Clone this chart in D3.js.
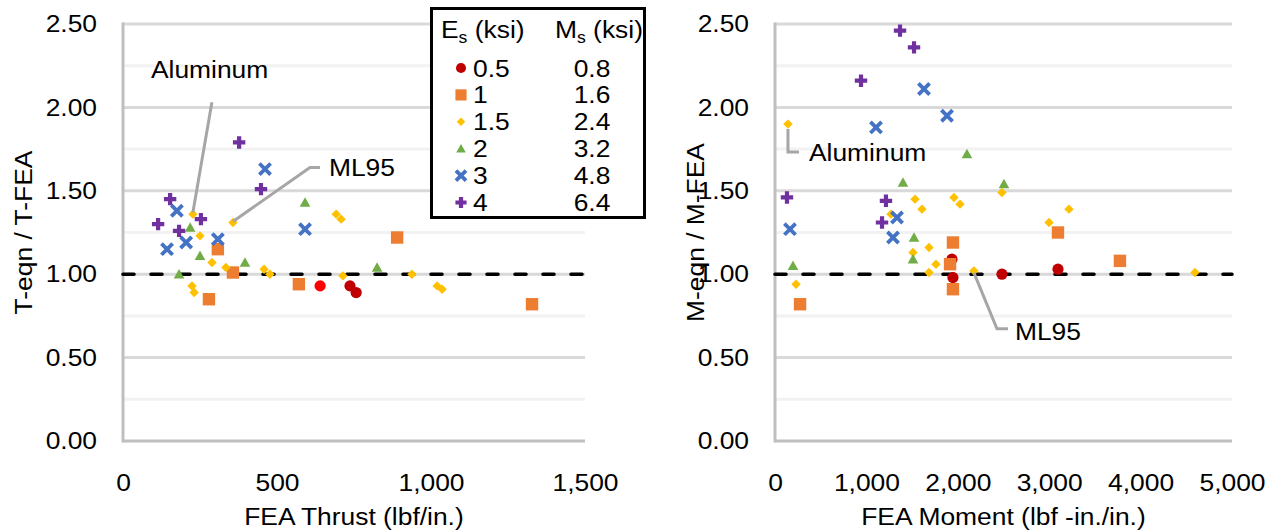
<!DOCTYPE html>
<meta charset="utf-8">
<style>
body { margin: 0; background: #fff; }
svg text { font-family: "Liberation Sans", Arial, sans-serif; font-size: 24px; fill: #000; }
/* the reference text is drawn a little wide, so stretch it */
.sx { transform-box: fill-box; transform: scaleX(1.1); }
.sx-s { transform-origin: left center; }
.sx-e { transform-origin: right center; }
.sx-m { transform-origin: center; }
</style>
<svg width="1280" height="531"></svg>
<script src="https://d3js.org/d3.v7.min.js"></script>
<script>

// legend columns
var esVals = ["0.5", "1", "1.5", "2", "3", "4"];
var msVals = ["0.8", "1.6", "2.4", "3.2", "4.8", "6.4"];
var colors = ["#C00000", "#ED7D31", "#FFC000", "#70AD47", "#4472C4", "#7030A0"];
var shapes = ["circle", "square", "diamond", "triangle", "times", "plus"];

// tick labels
var yTicks = [0, 0.5, 1, 1.5, 2, 2.5];
var thrustTicks = [0, 500, 1000, 1500];
var momentTicks = [0, 1000, 2000, 3000, 4000, 5000];

// thrust chart: [FEA thrust, T-eqn / T-FEA]
var tE05 = [[737, 0.93], [757, 0.89]];
var tE05b = [[640, 0.93]];
var tE1 = [[308, 1.15], [357, 1.01], [279, 0.85], [571, 0.94], [890, 1.22], [1328, 0.82]];
var tE15 = [[227, 1.36], [357, 1.31], [250, 1.23], [289, 1.07], [334, 1.04], [458, 1.03], [477, 1.00],
            [224, 0.93], [231, 0.89], [692, 1.36], [708, 1.33], [714, 0.99], [938, 1.00], [1020, 0.93], [1036, 0.91]];
var tE2 = [[218, 1.28], [250, 1.11], [396, 1.07], [182, 1.00], [591, 1.43], [825, 1.04]];
var tE3 = [[461, 1.63], [175, 1.38], [205, 1.19], [143, 1.15], [308, 1.21], [591, 1.27]];
var tE4 = [[377, 1.79], [153, 1.45], [448, 1.51], [253, 1.33], [114, 1.30], [182, 1.26]];

// moment chart: [FEA moment, M-eqn / M-FEA]
var mE05 = [[1936, 1.09], [2483, 1.00], [1947, 0.98], [3096, 1.03]];
var mE1 = [[1947, 1.19], [1915, 1.06], [1947, 0.91], [274, 0.82], [3096, 1.25], [3774, 1.08]];
var mE15 = [[142, 1.90], [2483, 1.49], [1532, 1.45], [1958, 1.46], [2024, 1.42], [1608, 1.39], [1269, 1.36],
            [1685, 1.16], [1510, 1.13], [1761, 1.06], [1685, 1.01], [2177, 1.02], [230, 0.94], [3216, 1.39],
            [2998, 1.31], [4595, 1.01]];
var mE2 = [[2100, 1.72], [1400, 1.55], [2505, 1.54], [1521, 1.22], [1510, 1.09], [197, 1.05]];
var mE3 = [[1630, 2.11], [1882, 1.95], [1105, 1.88], [1335, 1.34], [164, 1.27], [1291, 1.22]];
var mE4 = [[1368, 2.46], [1521, 2.36], [941, 2.16], [131, 1.46], [1214, 1.44], [1171, 1.31]];

var svg = d3.select("svg");

function sx(sel, anchor) {
  var a = {start: "s", end: "e", middle: "m"}[anchor];
  sel.attr("text-anchor", anchor).attr("class", "sx sx-" + a);
}

function drawShape(g, shape, color, s) {
  if (shape == "circle") g.append("circle").attr("r", 5.6 * s).attr("fill", color);
  else if (shape == "square") g.append("rect").attr("x", -6.2 * s).attr("y", -6.2 * s)
      .attr("width", 12.4 * s).attr("height", 12.4 * s).attr("fill", color);
  else if (shape == "diamond") g.append("path").attr("d", d3.line()([[0, -4.7], [4.7, 0], [0, 4.7], [-4.7, 0]].map(p => [p[0] * s, p[1] * s])) + "Z").attr("fill", color);
  else if (shape == "triangle") g.append("path").attr("d", d3.line()([[0, -5.3], [5.3, 4.2], [-5.3, 4.2]].map(p => [p[0] * s, p[1] * s])) + "Z").attr("fill", color);
  else if (shape == "times") g.append("path").attr("d", "M" + (-5.6 * s) + "," + (-5.6 * s) + "L" + (5.6 * s) + "," + (5.6 * s) + "M" + (5.6 * s) + "," + (-5.6 * s) + "L" + (-5.6 * s) + "," + (5.6 * s))
      .attr("stroke", color).attr("stroke-width", 3.8).attr("fill", "none");
  else if (shape == "plus") g.append("path").attr("d", "M" + (-6.2 * s) + ",0H" + (6.2 * s) + "M0," + (-6.2 * s) + "V" + (6.2 * s))
      .attr("stroke", color).attr("stroke-width", 4.2).attr("fill", "none");
}

function drawChart(c) {
  var x = d3.scaleLinear().domain([0, c.xMax]).range([c.x0, c.x1]);
  var y = d3.scaleLinear().domain([0, 2.5]).range([441, 24]);
  var g = svg.append("g");

  // gridlines every 0.25, darker on the labelled ones
  g.selectAll(".grid")
    .data(d3.range(1, 11).map(i => i * 0.25))
    .join("line")
      .attr("x1", c.x0).attr("x2", c.x1)
      .attr("y1", d => y(d)).attr("y2", d => y(d))
      .attr("stroke", (d, i) => i % 2 ? "#d9d9d9" : "#f2f2f2")
      .attr("stroke-width", 3);

  // axis lines
  g.append("line").attr("x1", c.x0).attr("x2", c.x0).attr("y1", y(2.5) - 1.5).attr("y2", y(0) + 1.5)
    .attr("stroke", "#bfbfbf").attr("stroke-width", 3);
  g.append("line").attr("x1", c.x0).attr("x2", c.x1).attr("y1", y(0)).attr("y2", y(0))
    .attr("stroke", "#bfbfbf").attr("stroke-width", 3);

  // ratio = 1 reference
  g.append("line").attr("x1", c.x0).attr("x2", c.x1).attr("y1", y(1)).attr("y2", y(1))
    .attr("stroke", "#000").attr("stroke-width", 3.6)
    .attr("stroke-dasharray", "11,17").attr("stroke-linecap", "round");

  var ya = g.append("g").attr("transform", "translate(" + c.x0 + ",0)")
    .call(d3.axisLeft(y).tickValues(yTicks).tickFormat(d3.format(".2f")).tickSize(0).tickPadding(26));
  ya.select(".domain").remove();
  ya.selectAll("text").call(sx, "end");

  var xa = g.append("g").attr("transform", "translate(0," + y(0) + ")")
    .call(d3.axisBottom(x).tickValues(c.ticks).tickFormat(d3.format(",")).tickSize(0).tickPadding(33));
  xa.select(".domain").remove();
  xa.selectAll("text").call(sx, "middle");
  ya.attr("font-size", null).attr("font-family", null);
  xa.attr("font-size", null).attr("font-family", null);

  // axis titles
  g.append("text").attr("x", (c.x0 + c.x1) / 2).attr("y", 525).text(c.xTitle).call(sx, "middle");
  g.append("g").attr("transform", "translate(" + c.yTitleX + "," + ((y(0) + y(2.5)) / 2) + ") rotate(-90)")
    .append("text").attr("dominant-baseline", "central").text(c.yTitle).call(sx, "middle");

  // points, series in legend order
  c.series.forEach(function(s) {
    g.append("g").selectAll("g")
      .data(s.pts)
      .join("g")
        .attr("transform", d => "translate(" + x(d[0]) + "," + y(d[1]) + ")")
        .each(function() { drawShape(d3.select(this), s.shape, s.color, 1); });
  });

  // callouts
  c.notes.forEach(function(n) {
    var px = x(n.at[0]), py = y(n.at[1]);
    g.append("path")
      .attr("d", d3.line()(n.path.map(p => [px + p[0], py + p[1]])))
      .attr("fill", "none").attr("stroke", "#a6a6a6").attr("stroke-width", 3);
    g.append("text").attr("x", px + n.label[0]).attr("y", py + n.label[1])
      .attr("dominant-baseline", "central").text(n.text).call(sx, "start");
  });
}

function seriesOf(list, extra) {
  var out = list.map((pts, i) => ({pts: pts, color: colors[i], shape: shapes[i]}));
  if (extra) out.splice(1, 0, extra);
  return out;
}

drawChart({
  x0: 123, x1: 585, xMax: 1500, ticks: thrustTicks,
  xTitle: "FEA Thrust (lbf/in.)", yTitle: "T-eqn / T-FEA", yTitleX: 23,
  series: seriesOf([tE05, tE1, tE15, tE2, tE3, tE4], {pts: tE05b, color: "#FF0000", shape: "circle"}),
  notes: [
    {text: "Aluminum", at: tE15[0], path: [[0, -2], [19, -112]], label: [-42, -145]},
    {text: "ML95", at: tE15[1], path: [[0, -1], [77, -55], [87, -55]], label: [96, -55]}
  ]
});

drawChart({
  x0: 775, x1: 1232, xMax: 5000, ticks: momentTicks,
  xTitle: "FEA Moment (lbf -in./in.)", yTitle: "M-eqn / M-FEA", yTitleX: 695,
  series: seriesOf([mE05, mE1, mE15, mE2, mE3, mE4]),
  notes: [
    {text: "Aluminum", at: mE15[0], path: [[0, 5], [0, 28], [11, 28]], label: [21, 28]},
    {text: "ML95", at: mE15[11], path: [[0, 2], [23, 58], [34, 58]], label: [41, 61]}
  ]
});

// legend box
var lg = svg.append("g");
lg.append("rect").attr("x", 431.5).attr("y", 8.5).attr("width", 213).attr("height", 209)
  .attr("fill", "#fff").attr("stroke", "#000").attr("stroke-width", 3);

var h1 = lg.append("text").attr("x", 441).attr("y", 38).call(sx, "start");
h1.append("tspan").text("E");
h1.append("tspan").attr("dy", 5).attr("font-size", 16).text("s");
h1.append("tspan").attr("dy", -5).text(" (ksi)");
var h2 = lg.append("text").attr("x", 555).attr("y", 38).call(sx, "start");
h2.append("tspan").text("M");
h2.append("tspan").attr("dy", 5).attr("font-size", 16).text("s");
h2.append("tspan").attr("dy", -5).text(" (ksi)");

var rows = lg.selectAll(".row")
  .data(esVals)
  .join("g")
    .attr("transform", (d, i) => "translate(0," + (68 + i * 26.9) + ")");
rows.each(function(d, i) {
  var r = d3.select(this);
  drawShape(r.append("g").attr("transform", "translate(461,0)"), shapes[i], colors[i], 0.9);
  r.append("text").attr("x", 473).attr("dominant-baseline", "central").text(d).call(sx, "start");
  r.append("text").attr("x", 592).attr("dominant-baseline", "central").text(msVals[i]).call(sx, "middle");
});

</script>
